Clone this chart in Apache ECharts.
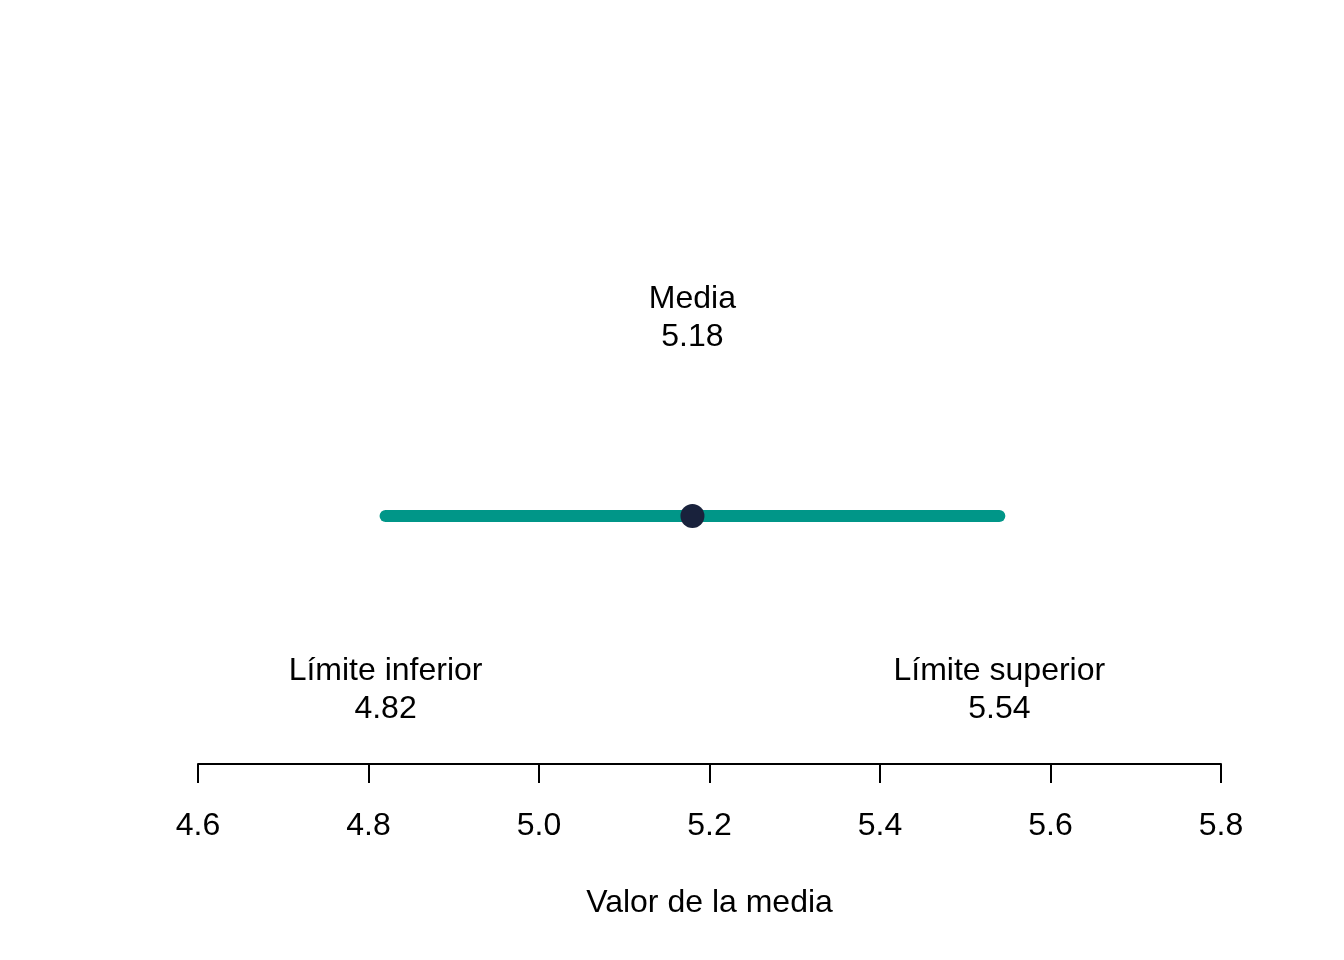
<!DOCTYPE html>
<html>
<head>
<meta charset="utf-8">
<script src="https://cdn.jsdelivr.net/npm/echarts@6/dist/echarts.min.js"></script>
<style>html,body{margin:0;padding:0;background:#fff;}#c{width:1344px;height:960px;}</style>
</head>
<body>
<div id="c"></div>
<script>
const lowerLimit = 4.82;
const upperLimit = 5.54;
const meanValue = 5.18;
const labelNames = ['Límite inferior', 'Media', 'Límite superior'];
const axisMin = 4.6;
const axisMax = 5.8;
const axisStep = 0.2;
const axisTitle = 'Valor de la media';
const rowY = 0.5;

const FONT = 'Liberation Sans, Arial, sans-serif';
const chart = echarts.init(document.getElementById('c'), null, {renderer: 'canvas'});
chart.setOption({
  animation: false,
  backgroundColor: '#ffffff',
  grid: {left: 198, right: 123, top: 268, bottom: 196},
  xAxis: {
    type: 'value', min: axisMin, max: axisMax, interval: axisStep,
    name: axisTitle, nameLocation: 'middle', nameGap: 123,
    nameTextStyle: {fontFamily: FONT, fontSize: 32, color: '#000'},
    axisLine: {show: true, lineStyle: {color: '#000', width: 2}},
    axisTick: {show: true, length: 19, lineStyle: {color: '#000', width: 2}},
    axisLabel: {margin: 46, fontFamily: FONT, fontSize: 32, color: '#000',
      formatter: v => v.toFixed(1)},
    splitLine: {show: false}
  },
  yAxis: {type: 'value', min: 0, max: 1, show: false},
  series: [
    {
      type: 'line', data: [[lowerLimit, rowY], [upperLimit, rowY]],
      symbol: 'none', lineStyle: {color: '#009688', width: 12, cap: 'round'},
      z: 2
    },
    {
      type: 'scatter', data: [[meanValue, rowY]], symbolSize: 24,
      itemStyle: {color: '#19223c', opacity: 1}, z: 3,
      label: {show: true, position: 'top', distance: 148,
        formatter: () => labelNames[1] + '\n' + meanValue.toFixed(2),
        fontFamily: FONT, fontSize: 32, lineHeight: 38, color: '#000', align: 'center'}
    },
    {
      type: 'scatter', data: [[lowerLimit, rowY, labelNames[0]], [upperLimit, rowY, labelNames[2]]],
      symbolSize: 0, z: 1, silent: true, itemStyle: {opacity: 1},
      label: {show: true, position: 'bottom', distance: 136,
        formatter: p => p.data[2] + '\n' + p.data[0].toFixed(2),
        fontFamily: FONT, fontSize: 32, lineHeight: 38, color: '#000', align: 'center'}
    }
  ]
});
</script>
</body>
</html>
